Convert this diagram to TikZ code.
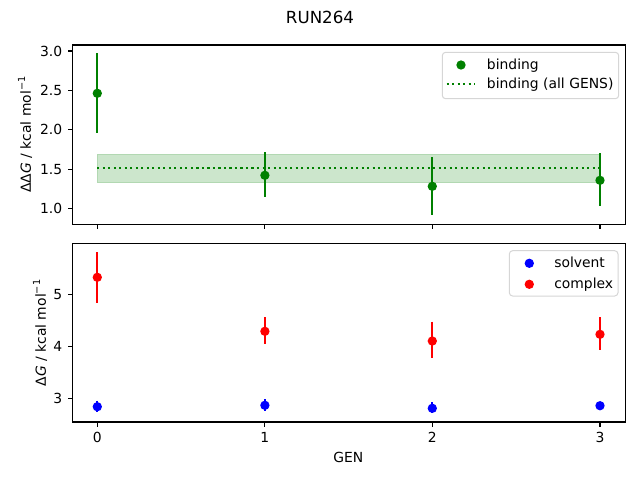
\documentclass[tikz,border=0pt]{standalone}
\usepackage{fontspec}
\setmainfont{DejaVu Sans}
\definecolor{mplgreen}{RGB}{0,128,0}
\definecolor{bandfill}{RGB}{204,230,204}
\definecolor{bandedge}{RGB}{178,216,178}
\definecolor{legedge}{RGB}{214,214,214}
\tikzset{
  axisframe/.style={draw=black, line width=0.83pt},
  tickmark/.style={draw=black, line width=0.83pt},
  ticklab/.style={inner sep=0pt, font=\fontsize{10.42}{12.5}\selectfont},
  lab/.style={inner sep=0pt, font=\fontsize{10.42}{12.5}\selectfont},
  errbar/.style={line width=1.65pt},
  dotline/.style={mplgreen, line width=1.56pt, dash pattern=on 1.56pt off 2.57pt},
  legbox/.style={draw=legedge, fill=white, line width=0.75pt, rounded corners=2.5pt},
}
\newcommand{\kcal}{kcal mol\raisebox{0.75ex}{\fontsize{7.3}{8}\selectfont −1}}
\newcommand{\mrad}{3.5pt}
\begin{document}
\begin{tikzpicture}[x=0.75pt,y=-0.75pt]
\useasboundingbox (0,0) rectangle (640,480);
% title
\node[inner sep=0pt, font=\fontsize{12.5}{15}\selectfont] (title) at (320,17) {RUN264};

% ================= TOP AXES =================
\fill[bandfill] (97.3,154) rectangle (600,182.7);
\draw[bandedge, line width=0.6pt] (97.3,154) rectangle (600,182.7);
\draw[dotline] (97.3,168) -- (600,168);
% error bars
\draw[mplgreen, errbar] (97.3,53.3) -- (97.3,132.7);
\draw[mplgreen, errbar] (264.9,152.3) -- (264.9,197.3);
\draw[mplgreen, errbar] (432.3,157.3) -- (432.3,214.7);
\draw[mplgreen, errbar] (600,153.3) -- (600,205.7);
\fill[mplgreen] (97.3,93.3) circle (\mrad);
\fill[mplgreen] (264.9,175.3) circle (\mrad);
\fill[mplgreen] (432.3,186.3) circle (\mrad);
\fill[mplgreen] (600,180.3) circle (\mrad);
\draw[axisframe] (72.7,45) rectangle (625.3,224.3);
% y ticks
\foreach \v/\y in {3.0/51,2.5/90.4,2.0/129.8,1.5/169.2,1.0/208.6}{
  \draw[tickmark] (72.7,\y) -- (67.8,\y);
  \node[ticklab, anchor=east] at (62.5,\y) {\v};
}
% x ticks (no labels)
\foreach \x in {97.3,264.9,432.3,600}{
  \draw[tickmark] (\x,224.3) -- (\x,229.2);
}
\node[lab, rotate=90] (ylabtop) at (25,134.5) {ΔΔ\textit{G} / \kcal};
% legend top
\draw[legbox] (442.3,52.3) rectangle (618.7,98.7);
\fill[mplgreen] (461,65) circle (\mrad);
\node[lab, anchor=base west] (legbind) at (486.7,69) {binding};
\draw[dotline] (446.7,84.3) -- (474.3,84.3);
\node[lab, anchor=base west] (legall) at (486.7,88.3) {binding (all GENS)};

% ================= BOTTOM AXES =================
\draw[red, errbar] (97.3,252.3) -- (97.3,302.7);
\draw[red, errbar] (264.9,317) -- (264.9,344.3);
\draw[red, errbar] (432.3,321.7) -- (432.3,358.3);
\draw[red, errbar] (600,317) -- (600,350.3);
\draw[blue, errbar] (97.3,400.7) -- (97.3,411.7);
\draw[blue, errbar] (264.9,399.3) -- (264.9,411.3);
\draw[blue, errbar] (432.3,402.3) -- (432.3,413.3);
\draw[blue, errbar] (600,402.5) -- (600,409);
\fill[red] (97.3,277.3) circle (\mrad);
\fill[red] (264.9,331.3) circle (\mrad);
\fill[red] (432.3,341) circle (\mrad);
\fill[red] (600,334.3) circle (\mrad);
\fill[blue] (97.3,406.7) circle (\mrad);
\fill[blue] (264.9,405.3) circle (\mrad);
\fill[blue] (432.3,408.3) circle (\mrad);
\fill[blue] (600,405.7) circle (\mrad);
\draw[axisframe] (72.7,243.7) rectangle (625.3,422);
\foreach \v/\y in {5/294.3,4/346.3,3/398.3}{
  \draw[tickmark] (72.7,\y) -- (67.8,\y);
  \node[ticklab, anchor=east] at (62.5,\y) {\v};
}
\foreach \g/\x in {0/97.3,1/264.9,2/432.3,3/600}{
  \draw[tickmark] (\x,422) -- (\x,426.9);
  \node[ticklab, anchor=north] at (\x,432.3) {\g};
}
\node[lab] (xlab) at (348.3,457.3) {GEN};
\node[lab, rotate=90] (ylabbot) at (40,333) {Δ\textit{G} / \kcal};
% legend bottom
\draw[legbox] (509.3,250.7) rectangle (618,296);
\fill[blue] (529.3,263.3) circle (\mrad);
\node[lab, anchor=base west] (legsolv) at (554,267.3) {solvent};
\fill[red] (529.3,284.3) circle (\mrad);
\node[lab, anchor=base west] (legcomp) at (554,288.3) {complex};
\end{tikzpicture}
\end{document}
